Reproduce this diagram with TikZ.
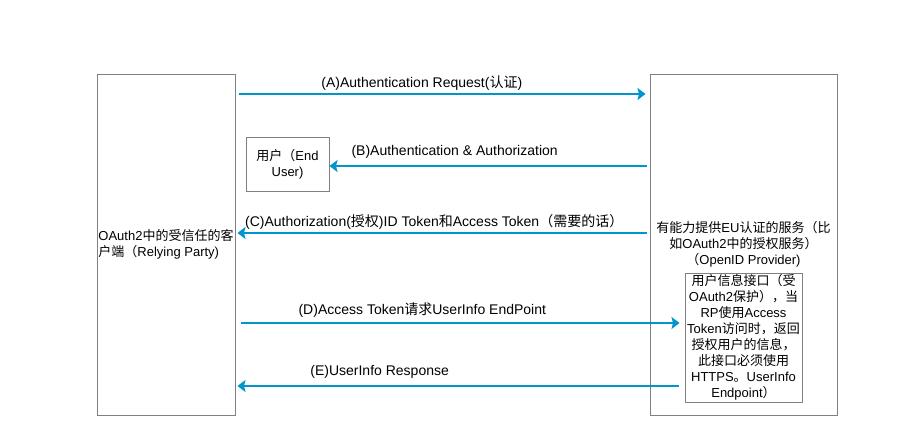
\documentclass[tikz,border=0pt]{standalone}
\usepackage{fontspec}
\setmainfont{Liberation Sans}
\newfontfamily\cjkfont{Noto Sans CJK SC}
\newcommand{\zh}[1]{{\cjkfont #1}}
\usepackage{tikz}
\usetikzlibrary{positioning, arrows.meta}
\definecolor{flowblue}{RGB}{0,150,204}
\definecolor{boxgray}{RGB}{128,128,128}

\begin{document}
\begin{tikzpicture}[x=1pt, y=-1pt,
        party/.style={draw=boxgray, line width=1pt, inner sep=1pt, align=center,
            font=\fontsize{13}{16}\selectfont},
        flow/.style={draw=flowblue, line width=2pt,
            -{Stealth[length=8pt, width=12pt, inset=1.5pt]}},
        msg/.style={inner sep=1pt, font=\fontsize{14}{16}\selectfont}]
                \useasboundingbox (0,0) rectangle (913,445);

                \node[party, minimum width=138, minimum height=341, align=left] (rp) at (166, 244.5)
                    {OAuth2\zh{中的受信任的客}\\\zh{户端（}Relying Party)};
                \node[party, minimum width=187, minimum height=341] (op) at (743.5, 244.5)
                    {\zh{有能力提供}EU\zh{认证的服务（比}\\\zh{如}OAuth2\zh{中的授权服务）}\\\zh{（}OpenID Provider)};
                \node[party, minimum width=83, minimum height=54] (eu) at (287.5, 164)
                    {\zh{用户（}End\\User)};
                \node[party, minimum width=117, minimum height=129] (ui) at (743.5, 337.5)
                    {\zh{用户信息接口（受}\\OAuth2\zh{保护），当}\\RP\zh{使用}Access\\Token\zh{访问时，返回}\\\zh{授权用户的信息，}\\\zh{此接口必须使用}\\HTTPS\zh{。}UserInfo\\Endpoint\zh{）}};

                \coordinate (yA) at (0, 94);
                \coordinate (yB) at (0, 166);
                \coordinate (yC) at (0, 233);
                \coordinate (yD) at (0, 323);
                \coordinate (yE) at (0, 386);

                \draw[flow, shorten <=3pt, shorten >=4pt] (rp.east |- yA) -- node[msg, pos=0.45, yshift=11pt] {(A)Authentication Request(\zh{认证})} (op.west |- yA);
                \draw[flow, shorten <=3pt] (op.west |- yB) -- node[msg, pos=0.609, yshift=14.5pt] {(B)Authentication \& Authorization} (eu.east |- yB);
                \draw[flow, shorten <=3pt, shorten >=2pt] (op.west |- yC) -- node[msg, pos=0.52, yshift=11.5pt] {(C)Authorization(\zh{授权})ID Token\zh{和}Access Token\zh{（需要的话）}} (rp.east |- yC);
                \draw[flow, shorten <=5pt, shorten >=5pt] (rp.east |- yD) -- node[msg, pos=0.416, yshift=12.5pt] {(D)Access Token\zh{请求}UserInfo EndPoint} (ui.west |- yD);
                \draw[flow, shorten <=6pt, shorten >=2pt] (ui.west |- yE) -- node[msg, pos=0.679, yshift=14pt] {(E)UserInfo Response} (rp.east |- yE);
            \end{tikzpicture}
\end{document}
